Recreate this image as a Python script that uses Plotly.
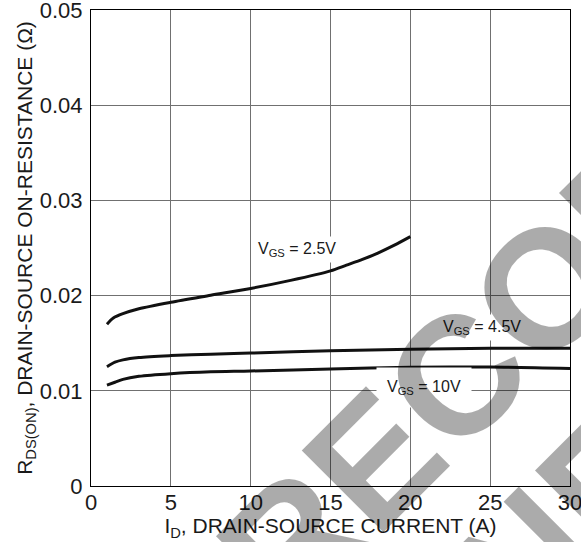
import plotly.graph_objects as go

# ---- data ----
x_25 = [1, 1.4, 2, 3, 5, 7.5, 10, 12.5, 15, 16, 17, 18, 19, 20]
y_25 = [0.0170, 0.01765, 0.0181, 0.01862, 0.0193, 0.02003, 0.02075, 0.0216, 0.0226, 0.0232, 0.0238, 0.0245, 0.0253, 0.0262]

x_45 = [1, 1.5, 2, 3, 5, 7.5, 10, 15, 20, 25, 30]
y_45 = [0.01253, 0.01300, 0.01325, 0.01350, 0.01370, 0.01385, 0.01396, 0.01420, 0.01437, 0.01446, 0.01448]

x_10 = [1, 1.5, 2, 3, 5, 7.5, 10, 15, 20, 25, 30]
y_10 = [0.0106, 0.0109, 0.0112, 0.01152, 0.0118, 0.0120, 0.01208, 0.0123, 0.01247, 0.01250, 0.01234]

series_labels = ["V<sub>GS</sub> = 2.5V", "V<sub>GS</sub> = 4.5V", "V<sub>GS</sub> = 10V"]
label_x = [12.88, 24.48, 20.85]
label_y = [0.0248, 0.01665, 0.01036]

x_ticks = [0, 5, 10, 15, 20, 25, 30]
x_tick_text = ["0", "5", "10", "15", "20", "25", "30"]
y_ticks = [0, 0.01, 0.02, 0.03, 0.04, 0.05]
y_tick_text = ["0", "0.01", "0.02", "0.03", "0.04", "0.05"]

x_title = "I<sub>D</sub>, DRAIN-SOURCE CURRENT (A)"
y_title = "R<sub>DS(ON)</sub>, DRAIN-SOURCE ON-RESISTANCE (Ω)"
watermark_lines = ["NOT RECOMMENDED", "FOR NEW DESIGN"]

FONT = "Arial, Liberation Sans, sans-serif"
W, H = 581, 542
ML, MR, MT, MB = 91, 11, 10, 56

fig = go.Figure()
for xs, ys in [(x_25, y_25), (x_45, y_45), (x_10, y_10)]:
    fig.add_trace(go.Scatter(x=xs, y=ys, mode="lines",
                             line=dict(color="#111111", width=3, shape="spline", smoothing=0.8),
                             showlegend=False, hoverinfo="skip"))

annos = []
pads = [3, 3, 10]
for t, lx, ly, p in zip(series_labels, label_x, label_y, pads):
    annos.append(dict(x=lx, y=ly, xref="x", yref="y", text=t, showarrow=False,
                      font=dict(family=FONT, size=16, color="#1a1a1a"),
                      bgcolor="white", borderpad=p, xanchor="center", yanchor="middle"))

# watermark (positions in pixels converted to paper coords)
pw = W - ML - MR
ph = H - MT - MB
wm_px = [(585.7, 248.3), (722.9, 364.3)]
for txt, (px, py) in zip(watermark_lines, wm_px):
    annos.append(dict(x=(px - ML) / pw, y=(H - MB - py) / ph, xref="paper", yref="paper",
                      text="<b>" + txt + "</b>", showarrow=False, textangle=-45,
                      font=dict(family=FONT, size=168, color="rgba(0,0,0,0.33)"),
                      xanchor="center", yanchor="middle"))

axis_common = dict(showline=True, linecolor="black", linewidth=1.2, mirror=True,
                   showgrid=True, gridcolor="#707070", gridwidth=1, zeroline=False,
                   automargin=False, ticklabeloverflow="allow",
                   ticks="", tickfont=dict(family=FONT, size=22, color="#1a1a1a"))

fig.update_layout(
    width=W, height=H, autosize=False,
    margin=dict(l=ML, r=MR, t=MT, b=MB),
    paper_bgcolor="white", plot_bgcolor="white",
    xaxis=dict(range=[0, 30], tickvals=x_ticks, ticktext=x_tick_text,
               title=dict(text=x_title, font=dict(family=FONT, size=21, color="#1a1a1a"), standoff=2),
               ticklabelstandoff=-4, **axis_common),
    yaxis=dict(range=[0, 0.05], tickvals=y_ticks, ticktext=y_tick_text,
               title=dict(text=y_title, font=dict(family=FONT, size=21, color="#1a1a1a"), standoff=1),
               ticklabelstandoff=3, **axis_common),
    annotations=annos,
)

fig.write_html("out.html", config={"displayModeBar": False},
               post_script="document.body.style.margin='0px';document.body.style.padding='0px';")
